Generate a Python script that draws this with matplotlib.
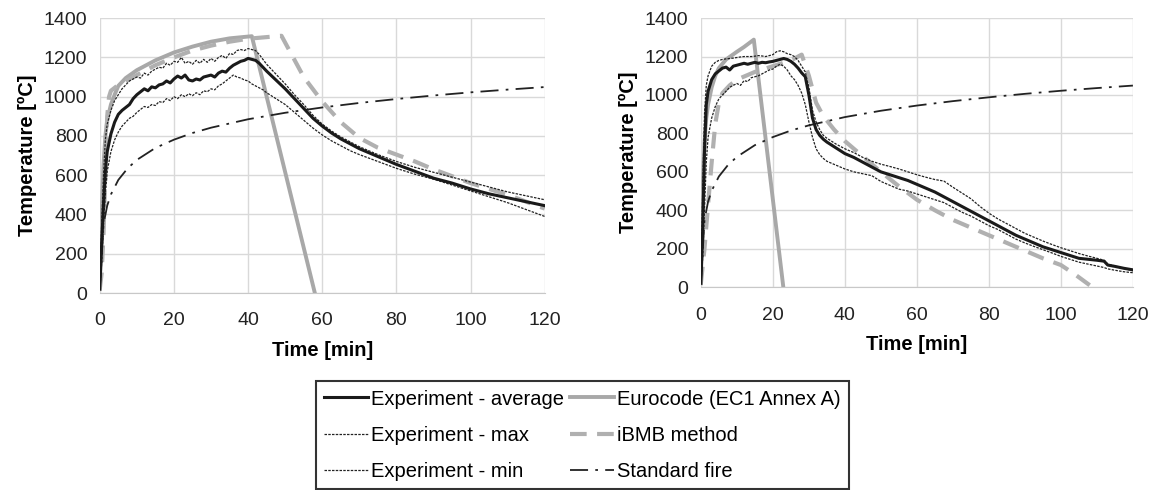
import matplotlib.pyplot as plt
from matplotlib.lines import Line2D

plt.rcParams['font.family'] = ['Liberation Sans', 'DejaVu Sans']

# --- standard fire (ISO 834), same in both plots ---
t_iso = [0, 1, 2, 3, 5, 7.5, 10, 15, 20, 25, 30, 40, 50, 60, 70, 80, 90, 100, 110, 120]
T_iso = [20, 349, 445, 502, 576, 635, 678, 739, 781, 815, 842, 885, 918, 945, 968, 988, 1006, 1022, 1036, 1049]

# --- left test ---
tL = [0, 0.5, 1, 1.5, 2, 3, 4, 5, 6, 7, 8, 9, 10, 11, 12, 13, 14, 15, 16, 17, 18, 19, 20,
      21, 22, 23, 24, 25, 26, 27, 28, 29, 30, 31, 32, 33, 34, 35, 36, 37, 38, 39, 40,
      41, 42, 43, 44, 45, 47.5, 50, 52.5, 55, 57.5, 60, 62.5, 65, 67.5, 70, 75, 80,
      85, 90, 95, 100, 105, 110, 115, 120]
avgL = [20, 250, 450, 620, 720, 810, 870, 910, 930, 945, 960, 990, 1010, 1025, 1040, 1030, 1050, 1045, 1060, 1065, 1080, 1070, 1090,
        1105, 1095, 1110, 1085, 1080, 1090, 1085, 1100, 1105, 1110, 1100, 1120, 1130, 1125, 1145, 1160, 1170, 1180, 1185, 1195,
        1190, 1185, 1170, 1150, 1130, 1085, 1040, 990, 940, 890, 850, 815, 785, 760, 735, 695, 655,
        620, 585, 560, 530, 505, 485, 465, 445]
maxL = [20, 350, 600, 780, 860, 930, 980, 1010, 1040, 1060, 1080, 1090, 1100, 1095, 1120, 1110, 1130, 1140, 1150, 1145, 1170, 1160, 1180,
        1175, 1200, 1170, 1180, 1165, 1185, 1170, 1190, 1175, 1195, 1180, 1200, 1210, 1195, 1220, 1215, 1235, 1240, 1235, 1245,
        1240, 1235, 1215, 1190, 1165, 1115, 1065, 1010, 960, 905, 860, 825, 795, 770, 745, 705, 670,
        640, 615, 590, 565, 540, 515, 495, 475]
minL = [20, 150, 350, 500, 620, 720, 780, 820, 850, 870, 890, 900, 920, 935, 950, 945, 960, 955, 975, 970, 990, 980, 1000,
        990, 1010, 1000, 1015, 1005, 1020, 1010, 1030, 1025, 1040, 1035, 1055, 1065, 1080, 1095, 1110, 1100, 1095, 1085, 1080,
        1065, 1055, 1045, 1035, 1020, 990, 960, 920, 880, 840, 805, 775, 750, 725, 705, 670, 635,
        605, 580, 550, 520, 490, 460, 425, 390]
ec_tL = [0, 0.5, 1, 1.5, 2, 3, 4, 5, 7, 10, 15, 20, 25, 30, 35, 41, 58]
ec_TL = [20, 400, 650, 800, 880, 960, 1010, 1055, 1095, 1135, 1185, 1225, 1255, 1280, 1297, 1308, 0]
ib_tL = [0, 0.5, 1, 1.5, 2, 2.5, 3, 5, 10, 15, 20, 25, 30, 35, 40, 49, 55, 60, 65, 70, 75, 80,
         85, 90, 95, 100, 105, 110, 115, 120]
ib_TL = [20, 100, 300, 600, 900, 1000, 1030, 1060, 1110, 1160, 1200, 1235, 1260, 1280, 1295, 1310, 1100, 975, 870, 790, 740, 705,
         670, 630, 595, 560, 530, 500, 465, 430]

# --- right test ---
tR = [0, 0.5, 1, 1.5, 2, 3, 4, 5, 6, 7, 8, 9, 10, 11, 12, 13, 14, 15, 16, 17, 18, 19, 20,
      21, 22, 23, 24, 25, 26, 27, 28, 29, 30, 31, 32, 33, 34, 35, 37.5, 40, 42.5, 45, 47.5,
      50, 52.5, 55, 57.5, 60, 62.5, 65, 67.5, 70, 72.5, 75, 77.5, 80, 82.5, 85, 87.5, 90,
      92.5, 95, 97.5, 100, 102.5, 105, 107.5, 110, 112, 113, 115, 117.5, 120]
avgR = [20, 300, 700, 950, 1020, 1080, 1110, 1125, 1140, 1145, 1130, 1150, 1155, 1160, 1165, 1160, 1165, 1170, 1165, 1170, 1168, 1172, 1175,
        1180, 1185, 1190, 1185, 1175, 1160, 1140, 1115, 1095, 1000, 880, 820, 790, 770, 755, 725, 695, 675, 650, 625,
        600, 585, 570, 555, 535, 515, 495, 470, 445, 420, 395, 370, 345, 320, 295, 270, 250,
        230, 210, 195, 180, 165, 150, 145, 140, 135, 115, 108, 98, 90]
maxR = [20, 500, 900, 1050, 1100, 1150, 1170, 1180, 1185, 1188, 1190, 1192, 1195, 1198, 1200, 1200, 1200, 1202, 1205, 1203, 1200, 1205, 1210,
        1225, 1230, 1225, 1215, 1210, 1200, 1180, 1150, 1120, 1040, 920, 860, 820, 790, 775, 745, 720, 700, 675, 655,
        640, 628, 615, 600, 585, 572, 560, 552, 520, 490, 460, 420, 385, 355, 330, 305, 280,
        260, 240, 222, 205, 190, 175, 162, 150, 140, 120, 110, 98, 85]
minR = [20, 150, 400, 650, 780, 880, 940, 980, 1000, 1020, 1040, 1050, 1060, 1050, 1075, 1070, 1090, 1095, 1100, 1110, 1120, 1130, 1135,
        1150, 1160, 1150, 1130, 1100, 1080, 1050, 1010, 950, 860, 780, 720, 690, 670, 655, 635, 615, 600, 590, 580,
        550, 530, 510, 500, 485, 470, 455, 440, 415, 390, 370, 345, 320, 300, 275, 250, 230,
        212, 195, 178, 160, 145, 130, 120, 110, 102, 95, 88, 80, 75]
ec_tR = [0, 0.5, 1, 1.5, 2, 3, 4, 5, 7, 10, 12, 14.7, 22.9]
ec_TR = [20, 500, 750, 880, 950, 1040, 1100, 1140, 1185, 1225, 1250, 1288, 0]
ib_tR = [0, 1, 2, 3, 4, 5, 6, 8, 10, 15, 20, 25, 28, 30, 32, 34, 37, 40, 45, 50, 55, 60, 65, 70,
         75, 80, 85, 90, 95, 100, 104, 108]
ib_TR = [20, 200, 430, 650, 850, 960, 1010, 1050, 1080, 1120, 1150, 1180, 1210, 1100, 960, 890, 820, 760, 680, 600, 525, 455, 400, 350,
         310, 270, 230, 190, 150, 115, 65, 10]

avg_kw = dict(color='#1a1a1a', lw=2.2)
exp_kw = dict(color='#222222', lw=0.9, linestyle=(0, (2, 1)))
ec_kw = dict(color='#a8a8a8', lw=2.8)
ib_kw = dict(color='#b0b0b0', lw=3, linestyle=(0, (4, 2.5)))
iso_kw = dict(color='#222222', lw=1.3, linestyle=(0, (10, 4, 1.5, 4)))

fig = plt.figure(figsize=(11.74, 4.9), dpi=100)
axL = fig.add_axes([0.085, 0.402, 0.379, 0.561])
axR = fig.add_axes([0.597, 0.414, 0.368, 0.549])

for ax, t, avg, mx, mn, ect, ecT, ibt, ibT in [
        (axL, tL, avgL, maxL, minL, ec_tL, ec_TL, ib_tL, ib_TL),
        (axR, tR, avgR, maxR, minR, ec_tR, ec_TR, ib_tR, ib_TR)]:
    ax.plot(ect, ecT, **ec_kw)
    ax.plot(ibt, ibT, **ib_kw)
    ax.plot(t_iso, T_iso, **iso_kw)
    ax.plot(t, mx, **exp_kw)
    ax.plot(t, mn, **exp_kw)
    ax.plot(t, avg, **avg_kw)
    ax.set_xlim(0, 120)
    ax.set_ylim(0, 1400)
    ax.set_xticks(range(0, 121, 20))
    ax.set_yticks(range(0, 1401, 200))
    ax.grid(True, color='#d9d9d9', lw=1)
    ax.set_axisbelow(True)
    for s in ['top', 'right', 'left']:
        ax.spines[s].set_visible(False)
    ax.spines['bottom'].set_color('#c8c8c8')
    ax.tick_params(length=0, labelsize=14, colors='#222222')
    ax.tick_params(axis='x', pad=14)
    ax.tick_params(axis='y', pad=9)
    ax.set_xlabel('Time [min]', fontsize=14.5, fontweight='bold', labelpad=8)
    ax.set_ylabel('Temperature [ºC]', fontsize=14.5, fontweight='bold', labelpad=5)

handles = [Line2D([], [], **avg_kw), Line2D([], [], **exp_kw), Line2D([], [], **exp_kw),
           Line2D([], [], **ec_kw), Line2D([], [], **ib_kw), Line2D([], [], **iso_kw)]
labels = ['Experiment - average', 'Experiment - max', 'Experiment - min',
          'Eurocode (EC1 Annex A)', 'iBMB method', 'Standard fire']
leg = fig.legend(handles, labels, ncol=2, loc='upper center', bbox_to_anchor=(0.496, 0.242),
                 fontsize=14.5, frameon=True, fancybox=False, edgecolor='black',
                 handlelength=2.2, handletextpad=0.15, columnspacing=0.3, labelspacing=0.85,
                 borderpad=0.4)
leg.get_frame().set_linewidth(1.5)

fig.savefig('out.png', dpi=100)
